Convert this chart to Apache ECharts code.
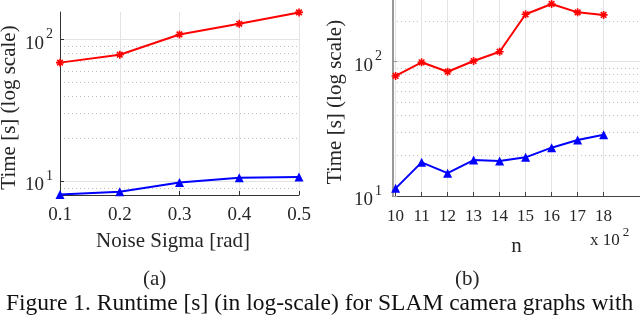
<!DOCTYPE html>
<html>
<head>
<meta charset="utf-8">
<script src="https://cdn.jsdelivr.net/npm/echarts@6/dist/echarts.min.js"></script>
<style>
html,body{margin:0;padding:0;background:#fff;}
#c{width:640px;height:322px;}
</style>
</head>
<body>
<div id="c"></div>
<script>
// ---- data ----
const sigma = [0.1, 0.2, 0.3, 0.4, 0.5];
const sigmaRed = [68.9, 78.4, 109, 129.6, 156];
const sigmaBlue = [8.06, 8.42, 9.79, 10.6, 10.74];

const nVals = [10, 11, 12, 13, 14, 15, 16, 17, 18];
const nRed = [78.3, 99, 84.2, 101.2, 118.7, 225.5, 269, 233, 223];
const nBlue = [11.4, 17.8, 14.8, 18.5, 18.2, 19.4, 22.9, 26.1, 28.6];

const yMajor = [10, 100];
const yMinorLeft = [9, 20, 30, 40, 50, 60, 70, 80, 90];
const yMinorRight = [20, 30, 40, 50, 60, 70, 80, 90, 200];

const serif = '"Liberation Serif", "DejaVu Serif", serif';
const txt = '#262626';

function zip(xs, ys) { return xs.map((x, i) => [x, ys[i]]); }

const asterisk = 'path://M0,5L10,5M5,0L5,10M1.5,1.5L8.5,8.5M8.5,1.5L1.5,8.5';

const powLabel = v => '{b|10}{s|' + Math.round(Math.log10(v)) + '}';
const richY = {
  b: {fontSize: 19, fontFamily: serif, color: txt, padding: [8, 0, 0, 0]},
  s: {fontSize: 14, fontFamily: serif, color: txt, padding: [0, 0, 10, 2]}
};

function majorY(gi, min, max, margin, axisColor, axisWidth) {
  return {
    type: 'log', gridIndex: gi, min: min, max: max, position: 'left',
    axisLine: {show: true, lineStyle: {color: axisColor, width: axisWidth}},
    axisTick: {show: true, inside: true, length: 4, customValues: yMajor, lineStyle: {color: axisColor}},
    axisLabel: {customValues: yMajor, formatter: powLabel, rich: richY, margin: margin},
    splitLine: {show: true, lineStyle: {color: '#e3e3e3', width: 1}},
    minorTick: {show: false}, minorSplitLine: {show: false},
    name: 'Time [s] (log scale)', nameLocation: 'middle',
    nameTextStyle: {fontFamily: serif, fontSize: 21, color: txt, padding: [0, 8, 0, 0]}
  };
}
function minorY(gi, min, max, vals) {
  return {
    type: 'log', gridIndex: gi, min: min, max: max, position: 'left',
    axisLine: {show: false},
    axisTick: {show: false, customValues: vals},
    axisLabel: {show: false, customValues: vals},
    splitLine: {show: true, lineStyle: {color: '#bdbdbd', width: 1, type: [1, 3]}}
  };
}

const option = {
  animation: false,
  backgroundColor: '#fff',
  grid: [
    {left: 60, top: 12, width: 239, height: 183, outerBoundsMode: 'none', containLabel: false},
    {left: 393, top: 0, right: 0, height: 196, outerBoundsMode: 'none', containLabel: false}
  ],
  xAxis: [
    {
      type: 'value', gridIndex: 0, min: 0.1, max: 0.5,
      axisLine: {show: true, onZero: false, lineStyle: {color: '#333', width: 1}},
      axisTick: {show: true, inside: true, length: 4, customValues: sigma, lineStyle: {color: '#333'}},
      axisLabel: {customValues: sigma, formatter: v => v.toFixed(1), fontFamily: serif, fontSize: 19, color: txt, margin: 11},
      splitLine: {show: true, lineStyle: {color: '#e3e3e3', width: 1}},
      name: 'Noise Sigma [rad]', nameLocation: 'middle', nameGap: 36,
      nameTextStyle: {fontFamily: serif, fontSize: 21, color: txt, padding: [0, 13, 0, 0]}
    },
    {
      type: 'value', gridIndex: 1, min: 9.9, max: 19.4,
      axisLine: {show: true, onZero: false, lineStyle: {color: '#444', width: 1}},
      axisTick: {show: true, inside: true, length: 4, customValues: nVals, lineStyle: {color: '#444'}},
      axisLabel: {customValues: nVals, formatter: v => String(Math.round(v)), fontFamily: serif, fontSize: 17, color: txt, margin: 12},
      splitLine: {show: true, lineStyle: {color: '#e3e3e3', width: 1}},
      name: 'n', nameLocation: 'middle', nameGap: 40,
      nameTextStyle: {fontFamily: serif, fontSize: 21, color: txt}
    }
  ],
  yAxis: [
    Object.assign(majorY(0, 8, 157, 7, '#333', 1), {nameGap: 40}),
    Object.assign(majorY(1, 10, 288, 11, '#999', 2), {nameGap: 47}),
    minorY(0, 8, 157, yMinorLeft),
    minorY(1, 10, 288, yMinorRight)
  ],
  graphic: [
    {type: 'text', left: 143, top: 269, style: {text: '(a)', font: '21px ' + serif, fill: txt}},
    {type: 'text', left: 455, top: 269, style: {text: '(b)', font: '21px ' + serif, fill: txt}},
    {type: 'text', left: 590, top: 226, style: {
      text: '{b|x 10}{s|2}', rich: {
        b: {fontSize: 17, fontFamily: serif, fill: txt, padding: [8, 0, 0, 0]},
        s: {fontSize: 13, fontFamily: serif, fill: txt, padding: [0, 0, 8, 3]}
      }}},
    {type: 'text', left: 6, top: 292, style: {text: 'Figure 1. Runtime [s] (in log-scale) for SLAM camera graphs with', font: '23.5px ' + serif, fill: '#111'}}
  ],
  series: [
    {type: 'line', xAxisIndex: 0, yAxisIndex: 0, data: zip(sigma, sigmaRed),
      symbol: asterisk, symbolSize: 8, lineStyle: {color: '#ff0000', width: 2},
      itemStyle: {color: '#ff0000', borderColor: '#ff0000', borderWidth: 1.6}, clip: false},
    {type: 'line', xAxisIndex: 0, yAxisIndex: 0, data: zip(sigma, sigmaBlue),
      symbol: 'triangle', symbolSize: 9, lineStyle: {color: '#0000ff', width: 2},
      itemStyle: {color: '#0000ff'}, clip: false},
    {type: 'line', xAxisIndex: 1, yAxisIndex: 1, data: zip(nVals, nRed),
      symbol: asterisk, symbolSize: 8, lineStyle: {color: '#ff0000', width: 2},
      itemStyle: {color: '#ff0000', borderColor: '#ff0000', borderWidth: 1.6}, clip: false},
    {type: 'line', xAxisIndex: 1, yAxisIndex: 1, data: zip(nVals, nBlue),
      symbol: 'triangle', symbolSize: 9, lineStyle: {color: '#0000ff', width: 2},
      itemStyle: {color: '#0000ff'}, clip: false}
  ]
};
const chart = echarts.init(document.getElementById('c'), null, {renderer: 'canvas'});
chart.setOption(option);
</script>
</body>
</html>
